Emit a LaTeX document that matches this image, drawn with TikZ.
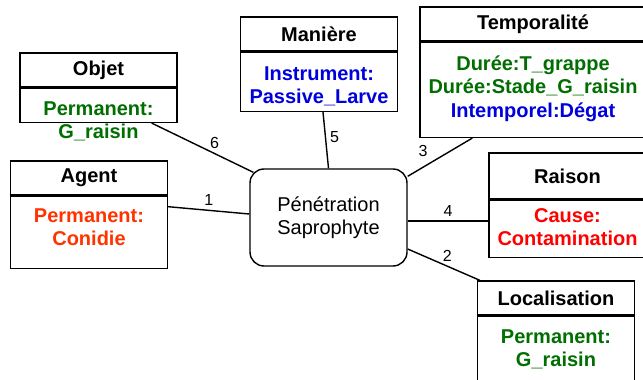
\documentclass[tikz,border=0pt]{standalone}
\usepackage{fontspec}
\setmainfont{Liberation Sans}
\usetikzlibrary{positioning}
\definecolor{permcol}{HTML}{006E00}
\definecolor{instcol}{HTML}{0000DD}
\definecolor{agentcol}{HTML}{FF3300}
\definecolor{causecol}{HTML}{FF0000}

\begin{document}
\begin{tikzpicture}[
  x=1pt, y=-1pt, line width=1.4pt,
  font=\fontsize{20}{23.5}\selectfont,
  enthead/.style={draw, rectangle, minimum width=157pt, minimum height=34pt,
    inner sep=0pt, font=\fontsize{20}{23.5}\selectfont\bfseries},
  entbody/.style={draw, rectangle, minimum width=157pt, inner sep=0pt},
  enttext/.style={anchor=north, align=center, inner sep=0pt,
    font=\fontsize{20}{23.5}\selectfont\bfseries},
  numlab/.style={font=\fontsize{16}{18}\selectfont, inner sep=4pt}
]
\useasboundingbox (0,0) rectangle (643,380);

% central event
\node[draw, rounded corners=14pt, minimum width=157pt, minimum height=97pt,
  align=center] (pen) at (328.5,217.5) {Pénétration\\Saprophyte};

% Objet
\node[enthead] (obj) at (98.5,70) {Objet};
\node[entbody, minimum height=34pt, below=0pt of obj] (objb) {};
\node[enttext, permcol] at ([yshift=-13pt]obj.south) {Permanent:\\G\_raisin};

% Maniere
\node[enthead] (man) at (319,34) {Manière};
\node[entbody, minimum height=59pt, below=0pt of man] (manb) {};
\node[enttext, instcol] at ([yshift=-14pt]man.south) {Instrument:\\Passive\_Larve};

% Temporalite
\node[enthead, minimum width=226pt] (temp) at (533,24) {Temporalité};
\node[entbody, minimum width=226pt, minimum height=95pt, below=0pt of temp] (tempb) {};
\node[enttext] at ([yshift=-13pt]temp.south)
  {\textcolor{permcol}{Durée:T\_grappe}\\\textcolor{permcol}{Durée:Stade\_G\_raisin}\\\textcolor{instcol}{Intemporel:Dégat}};

% Agent
\node[enthead] (agt) at (89,178) {Agent};
\node[entbody, minimum height=72pt, below=0pt of agt] (agtb) {};
\node[enttext, agentcol] at ([yshift=-12pt]agt.south) {Permanent:\\Conidie};

% Raison
\node[enthead, minimum height=46pt] (rai) at (567.5,176) {Raison};
\node[entbody, minimum height=57pt, below=0pt of rai] (raib) {};
\node[enttext, causecol] at ([yshift=-8pt]rai.south) {Cause:\\Contamination};

% Localisation
\node[enthead] (loc) at (556,298) {Localisation};
\node[entbody, minimum height=72pt, below=0pt of loc] (locb) {};
\node[enttext, permcol] at ([yshift=-13pt]loc.south) {Permanent:\\G\_raisin};

% roles
\draw ([xshift=-26pt]objb.south east) -- ([shift={(4pt,-4pt)}]pen.north west)
  node[numlab, pos=0.62, above] {6};
\draw ([xshift=4pt]manb.south) -- (pen.north)
  node[numlab, pos=0.45, right] {5};
\draw ([xshift=53pt]tempb.south west) -- ([yshift=-8pt]pen.north east)
  node[numlab, pos=0.62, above left] {3};
\draw ([yshift=-11pt]agtb.north east) -- ([yshift=3.5pt]pen.west)
  node[numlab, midway, above] {1};
\draw ([yshift=-3.5pt]pen.east) -- ([yshift=-3.5pt]pen.east -| raib.west)
  node[numlab, midway, above] {4};
\draw ([yshift=-31.5pt]pen.east) -- ([xshift=3pt]loc.north west)
  node[numlab, pos=0.55, above] {2};
\end{tikzpicture}
\end{document}
